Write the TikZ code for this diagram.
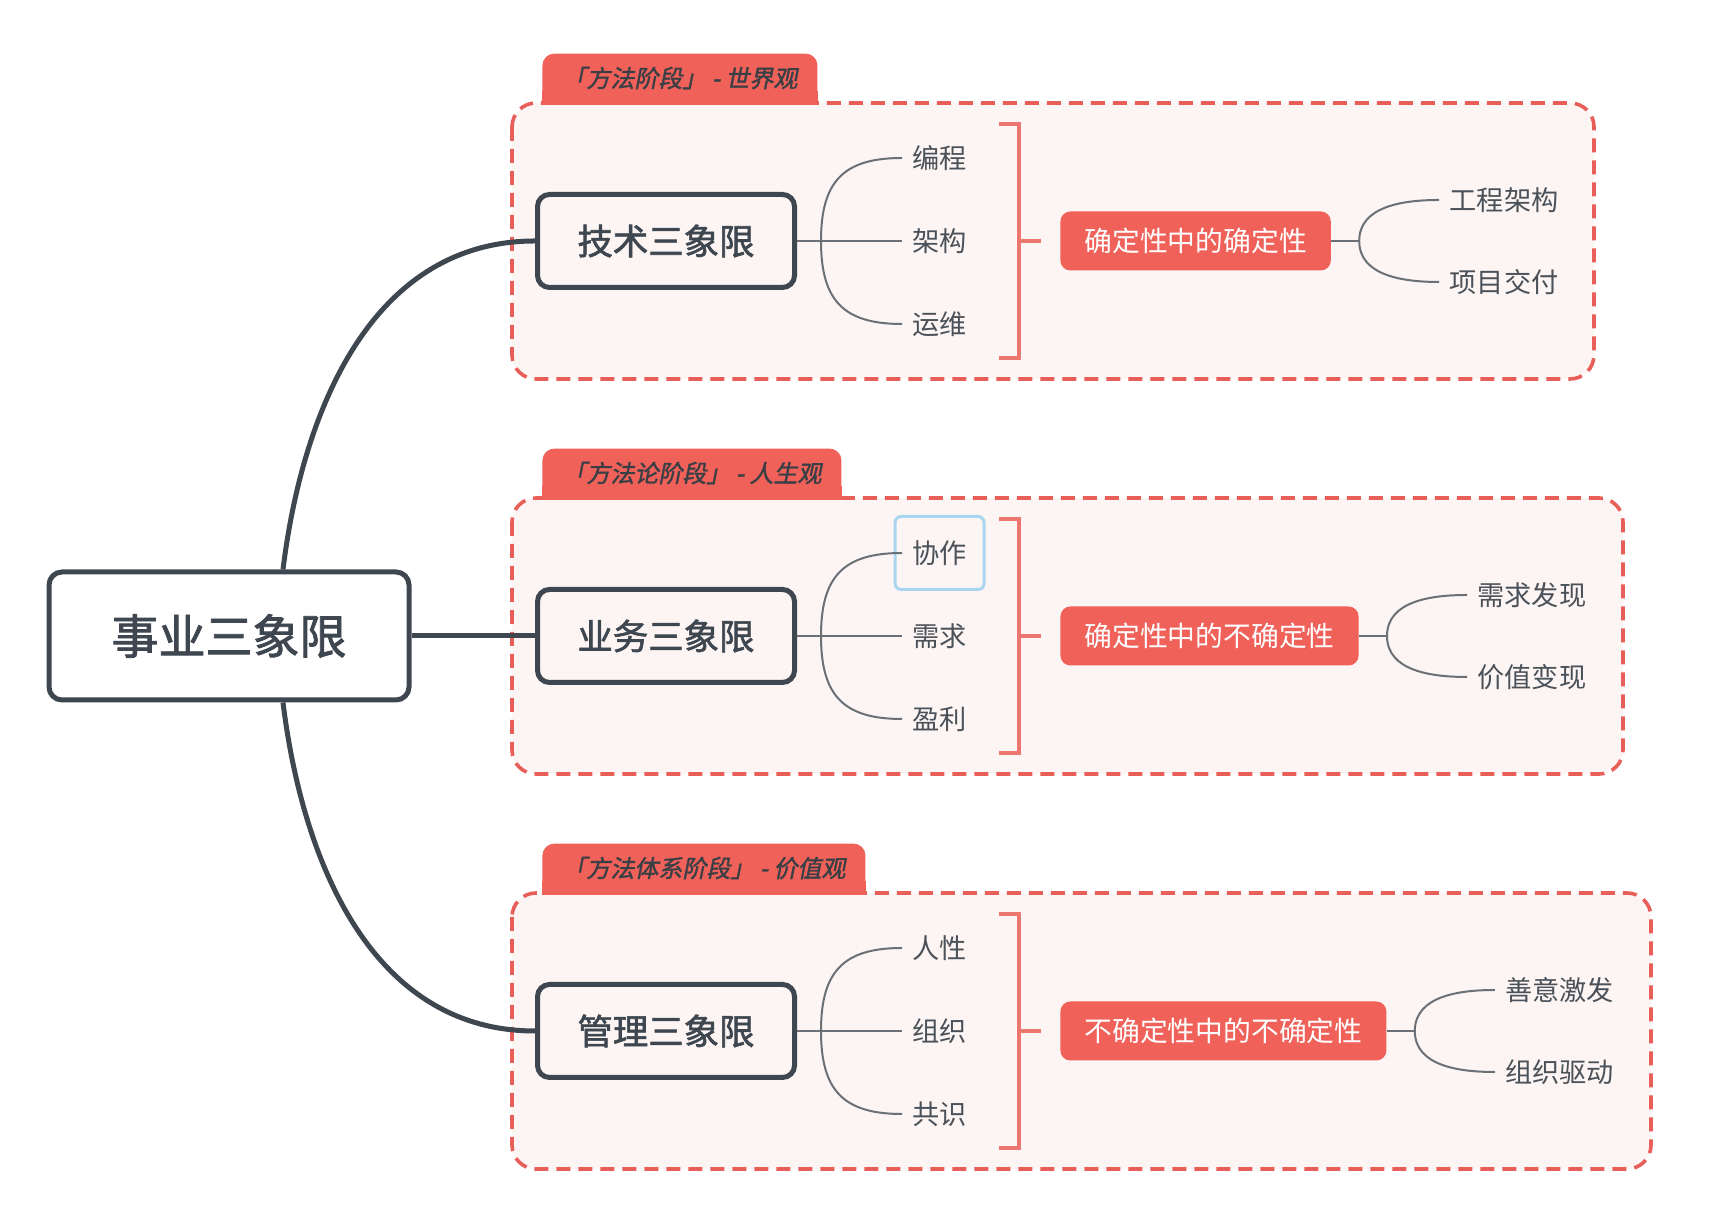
\documentclass[tikz,border=0pt]{standalone}
\usepackage{fontspec}
\setmainfont{Noto Sans CJK SC}
\newfontfamily\slfont[FakeSlant=0.2,FakeBold=1.5]{Noto Sans CJK SC}
\newfontfamily\medfont[FakeBold=1.8]{Noto Sans CJK SC}
\usetikzlibrary{shapes,arrows,backgrounds,positioning,fit}

\definecolor{ink}{HTML}{3E4650}
\definecolor{txt}{HTML}{4B5159}
\definecolor{twig}{HTML}{6B7077}
\definecolor{tabred}{HTML}{EF6159}
\definecolor{dashred}{HTML}{E85F59}
\definecolor{brk}{HTML}{EC7770}
\definecolor{paper}{HTML}{FCF5F4}
\definecolor{tabtxt}{HTML}{3A3F45}
\definecolor{focus}{HTML}{A8D5F0}

\begin{document}
\begin{tikzpicture}[x=0.5pt,y=0.5pt]
	\tikzstyle{Root}	= [rectangle, rounded corners=6.5pt, draw=ink, line width=2.5pt, fill=white, minimum width=180pt, minimum height=64pt, text=ink, font=\medfont\fontsize{23.5}{28}\selectfont]
	\tikzstyle{Sub}		= [rectangle, rounded corners=6pt, draw=ink, line width=2.5pt, fill=paper, minimum width=128.5pt, minimum height=46.5pt, text=ink, font=\medfont\fontsize{17.7}{21}\selectfont]
	\tikzstyle{Item}	= [anchor=west, inner sep=5pt, text=txt, font=\fontsize{13.6}{16}\selectfont]
	\tikzstyle{Key}		= [anchor=west, rectangle, rounded corners=5pt, fill=tabred, text=white, inner xsep=12pt, minimum height=29.5pt, font=\fontsize{13.9}{16}\selectfont]
	\tikzstyle{Tab}		= [anchor=south west, rectangle, rounded corners=6pt, fill=tabred, text=tabtxt, inner xsep=10pt, minimum height=24.5pt, font=\slfont\fontsize{12}{14}\selectfont]
	\tikzstyle{Focus}	= [rectangle, rounded corners=3pt, draw=focus, line width=1.5pt, minimum width=44.5pt, minimum height=36.5pt]
	\tikzstyle{Group}	= [draw=dashred, fill=paper, dash pattern=on 7pt off 4pt, line width=1.8pt, rounded corners=12pt]
	\tikzstyle{Trunk}	= [draw=ink, line width=2.5pt]
	\tikzstyle{Twig}	= [draw=twig, line width=1pt]
	\tikzstyle{Brace}	= [draw=brk, line width=1.6pt]

	\useasboundingbox (0,0) rectangle (1718,1214);

	% tabs over the three groups
	\node (t1) at (542,1111) [Tab] {「方法阶段」 - 世界观};
	\node (t2) at (542,716) [Tab] {「方法论阶段」 - 人生观};
	\node (t3) at (542,321) [Tab] {「方法体系阶段」 - 价值观};

	\begin{pgfonlayer}{background}
		\draw [Group] (512,1111) rectangle (1594,835);
		\draw [Group] (512,716) rectangle (1623,440);
		\draw [Group] (512,321) rectangle (1651,45);
		\fill [tabred] ([yshift=-1pt]t1.south west) rectangle ([yshift=6pt]t1.south east);
		\fill [tabred] ([yshift=-1pt]t2.south west) rectangle ([yshift=6pt]t2.south east);
		\fill [tabred] ([yshift=-1pt]t3.south west) rectangle ([yshift=6pt]t3.south east);
	\end{pgfonlayer}

	\node (root) at (229,578) [Root] {事业三象限};
	\node (s1) at (666,973) [Sub] {技术三象限};
	\node (s2) at (666,578) [Sub] {业务三象限};
	\node (s3) at (666,183) [Sub] {管理三象限};

	\coordinate (j1) at (821,973);
	\coordinate (j2) at (821,578);
	\coordinate (j3) at (821,183);

	\node (i11) at (902,1056) [Item] {编程};
	\node (i12) at (902,973) [Item] {架构};
	\node (i13) at (902,890) [Item] {运维};
	\node (i21) at (902,661) [Item] {协作};
	\node (i22) at (902,578) [Item] {需求};
	\node (i23) at (902,495) [Item] {盈利};
	\node (i31) at (902,266) [Item] {人性};
	\node (i32) at (902,183) [Item] {组织};
	\node (i33) at (902,100) [Item] {共识};
	\node (sel) at (i21) [Focus] {};

	\coordinate (b1a) at (999,1090);
	\coordinate (b1b) at (999,856);
	\coordinate (m1) at (1019,973);
	\coordinate (b2a) at (999,695);
	\coordinate (b2b) at (999,461);
	\coordinate (m2) at (1019,578);
	\coordinate (b3a) at (999,300);
	\coordinate (b3b) at (999,66);
	\coordinate (m3) at (1019,183);

	\node (r1) at (1060,973) [Key] {确定性中的确定性};
	\node (r2) at (1060,578) [Key] {确定性中的不确定性};
	\node (r3) at (1060,183) [Key] {不确定性中的不确定性};

	\coordinate (k1) at ([xshift=14pt]r1.east);
	\coordinate (k2) at ([xshift=14pt]r2.east);
	\coordinate (k3) at ([xshift=14pt]r3.east);

	\node (o11) at ([xshift=40pt,yshift=20.5pt]k1) [Item] {工程架构};
	\node (o12) at ([xshift=40pt,yshift=-20.5pt]k1) [Item] {项目交付};
	\node (o21) at ([xshift=40pt,yshift=20.5pt]k2) [Item] {需求发现};
	\node (o22) at ([xshift=40pt,yshift=-20.5pt]k2) [Item] {价值变现};
	\node (o31) at ([xshift=40pt,yshift=20.5pt]k3) [Item] {善意激发};
	\node (o32) at ([xshift=40pt,yshift=-20.5pt]k3) [Item] {组织驱动};

	\draw [-] ([xshift=27pt]root.north) to[out=83,in=180] (s1.west) [Trunk];
	\draw [-] (root) to (s2) [Trunk];
	\draw [-] ([xshift=27pt]root.south) to[out=-83,in=180] (s3.west) [Trunk];

	\draw [-] (s1) to (j1) [Twig];
	\draw [-] (j1) to[out=90,in=180,looseness=1.3] (i11.west) [Twig];
	\draw [-] (j1) to (i12.west) [Twig];
	\draw [-] (j1) to[out=-90,in=180,looseness=1.3] (i13.west) [Twig];
	\draw [-] (s2) to (j2) [Twig];
	\draw [-] (j2) to[out=90,in=180,looseness=1.3] (i21.west) [Twig];
	\draw [-] (j2) to (i22.west) [Twig];
	\draw [-] (j2) to[out=-90,in=180,looseness=1.3] (i23.west) [Twig];
	\draw [-] (s3) to (j3) [Twig];
	\draw [-] (j3) to[out=90,in=180,looseness=1.3] (i31.west) [Twig];
	\draw [-] (j3) to (i32.west) [Twig];
	\draw [-] (j3) to[out=-90,in=180,looseness=1.3] (i33.west) [Twig];

	\draw [-] (b1a) -| (m1) |- (b1b) [Brace];
	\draw [-] (b2a) -| (m2) |- (b2b) [Brace];
	\draw [-] (b3a) -| (m3) |- (b3b) [Brace];
	\draw [-, shorten >=9.5pt] (m1) to (r1) [Brace];
	\draw [-, shorten >=9.5pt] (m2) to (r2) [Brace];
	\draw [-, shorten >=9.5pt] (m3) to (r3) [Brace];

	\draw [-] (r1) to (k1) [Twig];
	\draw [-] (k1) to[out=90,in=180] (o11.west) [Twig];
	\draw [-] (k1) to[out=-90,in=180] (o12.west) [Twig];
	\draw [-] (r2) to (k2) [Twig];
	\draw [-] (k2) to[out=90,in=180] (o21.west) [Twig];
	\draw [-] (k2) to[out=-90,in=180] (o22.west) [Twig];
	\draw [-] (r3) to (k3) [Twig];
	\draw [-] (k3) to[out=90,in=180] (o31.west) [Twig];
	\draw [-] (k3) to[out=-90,in=180] (o32.west) [Twig];
\end{tikzpicture}
\end{document}
